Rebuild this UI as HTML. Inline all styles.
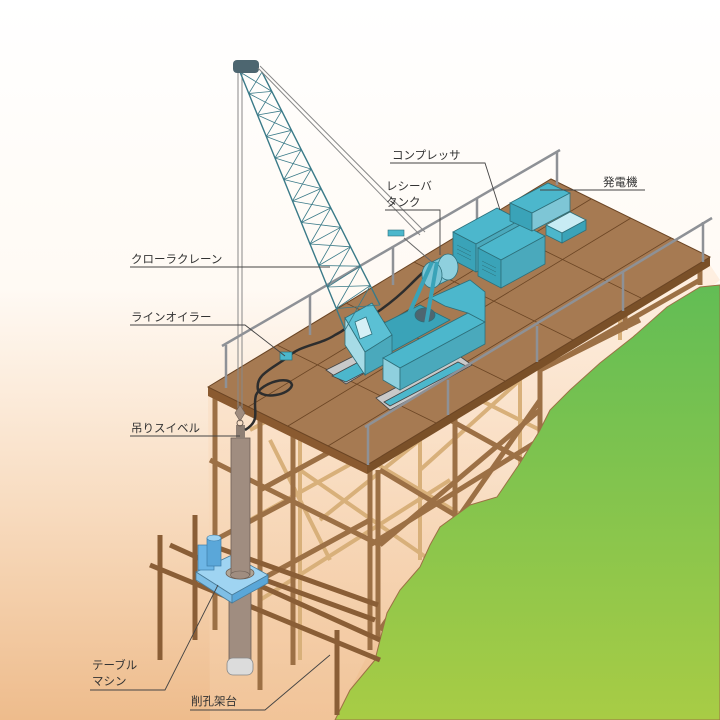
<!DOCTYPE html>
<html><head><meta charset="utf-8"><style>
html,body{margin:0;padding:0;width:720px;height:720px;overflow:hidden;background:#fff}
svg{display:block}
text{font-family:"Liberation Sans","Noto Sans CJK JP",sans-serif;font-size:11.5px;fill:#333}
</style></head><body>
<svg width="720" height="720" viewBox="0 0 720 720" xmlns="http://www.w3.org/2000/svg">
<defs>
<linearGradient id="bg" x1="0" y1="0" x2="0" y2="1">
<stop offset="0" stop-color="#ffffff"/><stop offset="0.4" stop-color="#fffaf4"/><stop offset="0.7" stop-color="#f8dcc0"/><stop offset="1" stop-color="#eebc8c"/></linearGradient>
<linearGradient id="gr" x1="0" y1="0" x2="0" y2="1">
<stop offset="0" stop-color="#62bd55"/><stop offset="1" stop-color="#a8cc45"/></linearGradient>
<linearGradient id="under" x1="0" y1="0" x2="0" y2="1">
<stop offset="0" stop-color="#fde8d4"/><stop offset="1" stop-color="#f3c9a0"/></linearGradient>
</defs>
<rect width="720" height="720" fill="url(#bg)"/>
<polygon points="208,395 367,473 710,265 720,280 540,430 440,527 390,610 335,720 210,720" fill="url(#under)" opacity="0.6"/>
<g stroke="#d8b07a" stroke-width="4" fill="none">
<line x1="300" y1="440" x2="300" y2="660"/><line x1="420" y1="380" x2="420" y2="560"/>
<line x1="520" y1="320" x2="520" y2="480"/><line x1="620" y1="265" x2="620" y2="340"/>
<line x1="250" y1="430" x2="420" y2="340"/><line x1="250" y1="520" x2="520" y2="370"/>
<line x1="260" y1="600" x2="450" y2="480"/><line x1="300" y1="470" x2="430" y2="560"/>
<line x1="320" y1="430" x2="470" y2="520"/><line x1="440" y1="380" x2="560" y2="440"/>
<line x1="420" y1="470" x2="520" y2="380"/><line x1="530" y1="340" x2="640" y2="300"/>
<line x1="270" y1="440" x2="330" y2="560"/><line x1="320" y1="520" x2="420" y2="440"/>
</g>
<g stroke="#9c7045" stroke-width="5" fill="none">
<line x1="215" y1="390" x2="215" y2="630"/><line x1="260" y1="412" x2="260" y2="690"/>
<line x1="293" y1="428" x2="293" y2="665"/><line x1="370" y1="470" x2="370" y2="650"/>
<line x1="378" y1="470" x2="378" y2="640"/>
<line x1="455" y1="412" x2="455" y2="520"/><line x1="540" y1="362" x2="540" y2="440"/>
<line x1="625" y1="310" x2="625" y2="330"/><line x1="700" y1="265" x2="700" y2="285"/>
<line x1="210" y1="460" x2="380" y2="545"/><line x1="370" y1="545" x2="620" y2="390"/>
<line x1="380" y1="630" x2="540" y2="400"/><line x1="380" y1="545" x2="540" y2="410"/>
<line x1="380" y1="470" x2="530" y2="560"/><line x1="450" y1="420" x2="540" y2="470"/>
<line x1="540" y1="370" x2="640" y2="320"/><line x1="560" y1="360" x2="700" y2="280"/>
<line x1="260" y1="490" x2="370" y2="430"/><line x1="260" y1="580" x2="370" y2="520"/>
<line x1="215" y1="540" x2="290" y2="500"/>
</g>
<path d="M720,285 L700,287 L667,307 L633,337 L600,363 L570,390 L550,410 L540,430 L520,463 L497,497 L470,505 L440,527 L430,545 L420,567 L400,590 L387,613 L380,640 L375,660 L350,690 L335,720 L720,720 Z" fill="url(#gr)" stroke="#9c7045" stroke-width="1"/>
<g stroke="#8a5e36" stroke-width="5" fill="none">
<line x1="160" y1="535" x2="160" y2="660"/><line x1="195" y1="515" x2="195" y2="640"/>
<line x1="337" y1="630" x2="337" y2="715"/>
<line x1="150" y1="565" x2="380" y2="660"/><line x1="170" y1="545" x2="380" y2="640"/>
<line x1="210" y1="560" x2="375" y2="620"/><line x1="210" y1="545" x2="378" y2="605"/>
</g>
<rect x="229" y="580" width="22" height="82" fill="#a08d80" stroke="#6d5f55" stroke-width="0.8"/>
<rect x="227" y="658" width="26" height="17" rx="6" fill="#dcdcdc" stroke="#888" stroke-width="0.8"/>
<polygon points="196,572 232,555 268,575 232,595" fill="#9fd4f2" stroke="#4a7c99" stroke-width="0.8"/>
<polygon points="196,572 232,595 232,603 196,580" fill="#7fbfe6" stroke="#4a7c99" stroke-width="0.8"/>
<polygon points="232,595 268,575 268,583 232,603" fill="#5aa7d9" stroke="#4a7c99" stroke-width="0.8"/>
<rect x="198" y="545" width="16" height="25" fill="#6db6e6" stroke="#3d7ca8" stroke-width="0.7"/>
<rect x="207" y="538" width="14" height="28" fill="#5aa7d9" stroke="#3d7ca8" stroke-width="0.7"/>
<ellipse cx="214" cy="538" rx="7" ry="3" fill="#9fd4f2" stroke="#3d7ca8" stroke-width="0.6"/>
<ellipse cx="240" cy="573" rx="14" ry="6" fill="#b0a596" stroke="#6d5f55" stroke-width="0.8"/>
<rect x="231" y="438" width="19" height="137" fill="#a08d80" stroke="#6d5f55" stroke-width="0.8"/>
<ellipse cx="240" cy="575" rx="9.5" ry="4" fill="#a08d80" stroke="#6d5f55" stroke-width="0.6"/>
<rect x="236" y="425" width="9" height="14" fill="#8f8075"/>
<!-- deck -->
<polygon points="208,387 367,465 367,474 208,396" fill="#8a5a30"/>
<polygon points="367,465 710,257 710,266 367,474" fill="#7a5028"/>
<polygon points="208,387 551,179 710,257 367,465" fill="#a67a52" stroke="#6b4524" stroke-width="1"/>
<g stroke="#6b4524" stroke-width="0.8" fill="none">
<line x1="248" y1="407" x2="591" y2="199"/><line x1="288" y1="426" x2="631" y2="218"/>
<line x1="328" y1="446" x2="671" y2="238"/>
<line x1="277" y1="345" x2="436" y2="423"/><line x1="346" y1="303" x2="505" y2="381"/>
<line x1="414" y1="262" x2="573" y2="340"/><line x1="482" y1="220" x2="641" y2="298"/>
</g>
<line x1="238" y1="70" x2="238" y2="410" stroke="#888" stroke-width="1"/>
<line x1="242" y1="70" x2="242" y2="410" stroke="#888" stroke-width="1"/>
<path d="M240,405 l5,8 -5,8 -5,-8z" fill="#a08d80" stroke="#6d5f55" stroke-width="0.6"/>
<circle cx="240" cy="423" r="3" fill="none" stroke="#6d5f55"/>
<path d="M288,357 C270,370 255,375 258,390 C262,400 290,395 292,385 C290,375 262,382 256,395 C252,410 262,420 245,430 M288,357 C300,345 320,345 335,335 C345,330 350,325 355,320 M345,330 C370,320 395,300 410,285 C420,275 425,270 430,268" fill="none" stroke="#2d2d2d" stroke-width="2.5"/>
<rect x="280" y="352" width="12" height="8" fill="#4cb7cc" stroke="#2d6f7a" stroke-width="0.7"/>
<g stroke="#8e9196" stroke-width="2.5" fill="none">
<line x1="222" y1="346" x2="560" y2="150"/><line x1="226" y1="345" x2="226" y2="388"/>
<line x1="310" y1="294" x2="310" y2="335"/><line x1="393" y1="246" x2="393" y2="285"/>
<line x1="477" y1="198" x2="477" y2="230"/><line x1="557" y1="152" x2="557" y2="185"/>
</g>
<!-- compressors -->
<g stroke="#2d6f7a" stroke-width="0.8">
<polygon points="453,232 497,208 520,220 476,244" fill="#4cb7cc"/>
<polygon points="453,232 476,244 476,272 453,260" fill="#3aa3b8"/>
<polygon points="476,244 520,220 520,248 476,272" fill="#4aa9bc"/>
<polygon points="478,248 522,224 545,236 501,260" fill="#4cb7cc"/>
<polygon points="478,248 501,260 501,288 478,276" fill="#3aa3b8"/>
<polygon points="501,260 545,236 545,264 501,288" fill="#4aa9bc"/>
<polygon points="510,203 548,183 570,193 532,213" fill="#4cb7cc"/>
<polygon points="510,203 532,213 532,231 510,221" fill="#3aa3b8"/>
<polygon points="532,213 570,193 570,211 532,231" fill="#7ec6d6"/>
<polygon points="546,225 570,212 586,220 562,233" fill="#c8ecf4"/>
<polygon points="546,225 562,233 562,243 546,235" fill="#4cb7cc"/>
<polygon points="562,233 586,220 586,230 562,243" fill="#3aa3b8"/>
</g>
<g stroke="#2d6f7a" stroke-width="0.5">
<path d="M457,245 l14,7 M457,249 l14,7 M457,253 l14,7 M482,261 l14,7 M482,265 l14,7 M482,269 l14,7" fill="none"/>
</g>
<!-- receiver tank -->
<g stroke="#2d6f7a" stroke-width="0.8">
<path d="M432,262 L448,254 L448,280 L432,288 Z" fill="#7ec6d6"/>
<ellipse cx="448" cy="267" rx="10" ry="13" fill="#8fd0de"/>
<ellipse cx="432" cy="275" rx="10" ry="13" fill="#7ec6d6"/>
</g>
<!-- crane tracks -->
<g stroke="#444" stroke-width="0.8">
<polygon points="326,370 372,347 392,357 346,384" fill="#c9c9c9"/>
<polygon points="332,376 372,355 386,361 346,382" fill="#4cb7cc"/>
<polygon points="376,398 458,355 472,365 390,410" fill="#c9c9c9"/>
<polygon points="384,402 458,362 466,366 390,406" fill="#4cb7cc"/>
</g>
<!-- crane body -->
<g stroke="#2d6f7a" stroke-width="0.8">
<polygon points="350,340 420,305 450,320 380,358" fill="#3aa3b8"/>
<polygon points="345,318 372,303 392,335 365,352" fill="#5bc0d4"/>
<polygon points="345,318 365,352 365,375 345,345" fill="#a6dbe6"/>
<polygon points="365,352 392,335 392,360 365,375" fill="#4aa9bc"/>
<polygon points="355,322 366,317 372,334 360,339" fill="#d5f0f6"/>
<polygon points="383,358 468,313 485,322 400,368" fill="#4cb7cc"/>
<polygon points="430,298 470,280 485,292 485,322 468,313 445,306" fill="#4cb7cc"/>
<polygon points="383,358 400,368 400,390 383,380" fill="#8fd0de"/>
<polygon points="400,368 485,322 485,344 400,390" fill="#4aa9bc"/>
<ellipse cx="425" cy="315" rx="10" ry="7" fill="#4d6670"/>
</g>
<g stroke="#3aa3b8" stroke-width="4" fill="none">
<line x1="395" y1="345" x2="432" y2="262"/><line x1="425" y1="330" x2="437" y2="262"/>
</g>
<!-- boom lattice -->
<g stroke="#3a7a88" stroke-width="1.4" fill="none">
<polyline points="240,72 248.8,93.5 257.5,115 266.3,136.5 275,158 283.8,179.5 292.5,201 301.3,222.5 310,244 318.8,265.5 327.5,287 336.3,308.5 345,330"/>
<polyline points="262,72 271.8,91.4 281.7,110.8 291.5,130.3 301.3,149.7 311.2,169.1 321,188.5 330.8,207.9 340.7,227.3 350.5,246.8 360.3,266.2 370.2,285.6 380,305"/>
</g>
<g stroke="#3a7a88" stroke-width="0.8" fill="none">
<path d="M248.8,93.5L271.8,91.4 M257.5,115L281.7,110.8 M266.3,136.5L291.5,130.3 M275,158L301.3,149.7 M283.8,179.5L311.2,169.1 M292.5,201L321,188.5 M301.3,222.5L330.8,207.9 M310,244L340.7,227.3 M318.8,265.5L350.5,246.8 M327.5,287L360.3,266.2 M336.3,308.5L370.2,285.6"/>
<path d="M240,72L271.8,91.4 M262,72L248.8,93.5 M248.8,93.5L281.7,110.8 M271.8,91.4L257.5,115 M257.5,115L291.5,130.3 M281.7,110.8L266.3,136.5 M266.3,136.5L301.3,149.7 M291.5,130.3L275,158 M275,158L311.2,169.1 M301.3,149.7L283.8,179.5 M283.8,179.5L321,188.5 M311.2,169.1L292.5,201 M292.5,201L330.8,207.9 M321,188.5L301.3,222.5 M301.3,222.5L340.7,227.3 M330.8,207.9L310,244 M310,244L350.5,246.8 M340.7,227.3L318.8,265.5 M318.8,265.5L360.3,266.2 M350.5,246.8L327.5,287 M327.5,287L370.2,285.6 M360.3,266.2L336.3,308.5 M336.3,308.5L380,305 M370.2,285.6L345,330"/>
</g>
<rect x="233" y="60" width="26" height="13" rx="4" fill="#4d6670"/>
<line x1="258" y1="68" x2="420" y2="235" stroke="#888" stroke-width="1"/>
<line x1="260" y1="66" x2="425" y2="232" stroke="#888" stroke-width="1"/>
<line x1="404" y1="238" x2="432" y2="262" stroke="#666" stroke-width="1"/>
<rect x="388" y="230" width="16" height="6" fill="#4cb7cc" stroke="#2d6f7a" stroke-width="0.6"/>
<g stroke="#8e9196" stroke-width="2.5" fill="none">
<line x1="365" y1="427" x2="712" y2="218"/><line x1="368" y1="426" x2="368" y2="465"/>
<line x1="448" y1="380" x2="448" y2="415"/><line x1="537" y1="326" x2="537" y2="362"/>
<line x1="623" y1="272" x2="623" y2="311"/><line x1="703" y1="222" x2="703" y2="262"/>
</g>
<g stroke="#444" stroke-width="0.9" fill="none">
<polyline points="130,267 330,267"/>
<polyline points="130,325 245,325 285,356"/>
<polyline points="130,436 240,436"/>
<polyline points="390,163 485,163 500,210"/>
<polyline points="385,210 440,210 440,255"/>
<polyline points="540,190 645,190"/>
<polyline points="90,690 165,690 218,585"/>
<polyline points="190,710 265,710 330,655"/>
</g>
<text x="131" y="263">クローラクレーン</text>
<text x="131" y="321">ラインオイラー</text>
<text x="131" y="432">吊りスイベル</text>
<text x="392" y="159">コンプレッサ</text>
<text x="386" y="190">レシーバ</text>
<text x="386" y="206">タンク</text>
<text x="603" y="186">発電機</text>
<text x="92" y="669">テーブル</text>
<text x="92" y="685">マシン</text>
<text x="191" y="705">削孔架台</text>
</svg>
</body></html>
